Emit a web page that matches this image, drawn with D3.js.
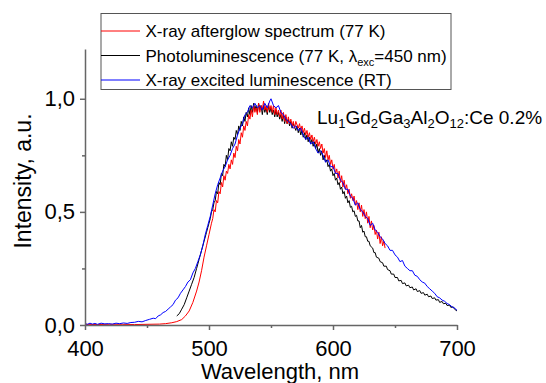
<!DOCTYPE html>
<html>
<head>
<meta charset="utf-8">
<script src="https://cdn.jsdelivr.net/npm/d3@7"></script>
<style>
  html, body { margin: 0; padding: 0; background: #fff; }
  svg { display: block; font-family: "Liberation Sans", Arial, sans-serif; }
</style>
</head>
<body>
<div id="chart"></div>
<script>
// X-ray afterglow spectrum (77 K) — [wavelength nm, intensity]
const afterglow = [
  [400,.003],[410,.002],[420,.003],[430,.003],[440,.002],[450,.003],[460,.004],[465,.006],[470,.01],[474,.015],
  [478,.024],[481,.04],[484,.062],[487,.10],[490,.15],[492,.19],[494,.24],[496,.30],[498,.35],[500,.40],
  [502,.45],[503,.47],[504,.51],[505,.50],[506,.55],[507,.54],[508,.59],[509,.58],[510,.63],[511,.61],
  [512,.66],[513,.64],[514,.68],[515,.67],[516,.71],[517,.69],[518,.73],[519,.71],[520,.76],[521,.74],
  [522,.79],[523,.77],[524,.82],[525,.80],[526,.85],[527,.83],[528,.88],[529,.86],[530,.90],[531,.88],
  [532,.93],[533,.91],[534,.95],[535,.92],[536,.97],[537,.94],[538,.96],[539,.93],[540,.98],[541,.94],
  [542,.97],[543,.95],[544,.99],[545,.95],[546,.97],[547,.94],[548,.98],[549,.95],[550,.97],[551,.94],
  [552,.97],[553,.93],[554,.96],[555,.93],[556,.95],[557,.92],[558,.95],[559,.91],[560,.94],[561,.90],
  [562,.93],[563,.89],[564,.92],[565,.89],[566,.91],[567,.88],[568,.90],[569,.87],[570,.90],[572,.87],
  [573,.89],[574,.86],[575,.88],[576,.85],[577,.87],[578,.84],[579,.86],[580,.83],[581,.85],[582,.82],
  [583,.84],[584,.81],[585,.83],[586,.80],[587,.82],[588,.79],[589,.81],[590,.78],[591,.80],[592,.76],
  [593,.78],[594,.74],[595,.77],[596,.73],[597,.75],[598,.71],[599,.73],[600,.69],[601,.71],[602,.67],
  [603,.69],[604,.65],[605,.68],[606,.63],[607,.66],[608,.61],[609,.64],[610,.60],[611,.62],[612,.58],
  [613,.60],[614,.56],[615,.58],[616,.55],[617,.57],[618,.53],[619,.55],[620,.51],[621,.54],[622,.50],
  [623,.53],[624,.48],[625,.51],[626,.47],[627,.50],[628,.45],[629,.48],[630,.43],[631,.46],[632,.42],
  [633,.44],[634,.40],[635,.42],[636,.38],[637,.41],[638,.36],[639,.39],[640,.35],[641,.37],[642,.34]
];

// Photoluminescence (77 K, λexc = 450 nm)
const photolum = [
  [474,.04],[476,.05],[478,.07],[480,.09],[482,.12],[484,.15],[486,.18],[488,.21],[490,.25],[492,.29],
  [494,.33],[496,.37],[498,.41],[499,.43],[500,.45],[501,.47],[502,.50],[503,.51],[504,.54],[505,.55],
  [506,.59],[507,.58],[508,.63],[509,.62],[510,.67],[511,.66],[512,.71],[513,.70],[514,.75],[515,.73],
  [516,.78],[517,.77],[518,.81],[519,.79],[520,.83],[521,.82],[522,.86],[523,.84],[524,.88],[525,.86],
  [526,.90],[527,.88],[528,.92],[529,.90],[530,.94],[531,.92],[532,.96],[533,.93],[534,.97],[535,.94],
  [536,.98],[537,.95],[538,.97],[539,.94],[540,.98],[541,.95],[542,.97],[543,.93],[544,.97],[545,.94],
  [546,.96],[547,.93],[548,.97],[549,.94],[550,.96],[551,.93],[552,.95],[553,.92],[554,.95],[555,.92],
  [556,.94],[557,.91],[558,.93],[559,.90],[560,.93],[561,.89],[562,.92],[563,.89],[564,.91],[565,.88],
  [566,.90],[567,.87],[568,.89],[570,.86],[571,.88],[572,.85],[573,.87],[574,.84],[575,.86],[576,.83],
  [577,.85],[578,.82],[579,.84],[580,.81],[581,.83],[582,.80],[583,.82],[584,.79],[585,.81],[586,.78],
  [587,.80],[588,.76],[589,.78],[590,.75],[591,.77],[592,.73],[593,.75],[594,.72],[595,.73],[596,.70],
  [597,.71],[598,.68],[599,.69],[600,.66],[601,.67],[602,.64],[603,.65],[604,.62],[605,.63],[606,.60],
  [607,.61],[608,.58],[609,.59],[610,.56],[611,.57],[612,.54],[613,.55],[614,.52],[615,.525],[616,.50],
  [617,.505],[618,.48],[619,.485],[620,.46],[621,.46],[622,.43],[623,.44],[624,.41],[625,.415],[626,.39],
  [627,.39],[628,.37],[629,.37],[630,.35],[632,.34],[633,.32],[634,.32],[635,.30],[637,.295],[638,.28],
  [640,.275],[641,.26],[643,.26],[644,.245],[646,.24],[647,.225],[649,.225],[650,.21],[652,.21],[653,.195],
  [655,.197],[656,.183],[658,.186],[659,.173],[661,.176],[662,.165],[664,.168],[665,.155],[667,.16],[668,.148],
  [670,.152],[671,.14],[673,.143],[674,.132],[676,.136],[677,.125],[679,.128],[680,.117],[682,.12],[683,.11],
  [685,.112],[686,.10],[688,.104],[689,.094],[691,.096],[692,.086],[694,.088],[695,.078],[697,.08],[698,.07],
  [700,.062]
];

// X-ray excited luminescence (RT)
const xel = [
  [400,.006],[402,.003],[404,.008],[406,.004],[408,.007],[410,.003],[413,.008],[416,.005],[419,.006],[422,.004],
  [425,.008],[428,.006],[431,.009],[434,.007],[437,.011],[440,.012],[443,.016],[446,.014],[449,.02],[452,.025],
  [455,.03],[457,.028],[459,.04],[461,.045],[463,.055],[465,.06],[467,.07],[469,.08],[471,.09],[473,.11],
  [475,.12],[477,.14],[479,.155],[481,.17],[483,.19],[485,.20],[487,.23],[489,.25],[491,.28],[493,.31],
  [495,.35],[497,.40],[499,.44],[501,.48],[503,.53],[505,.58],[507,.62],[509,.65],[511,.68],[513,.70],
  [515,.73],[517,.75],[519,.78],[521,.80],[523,.84],[525,.87],[527,.89],[529,.93],[531,.94],[533,.97],
  [535,.96],[537,.98],[539,.96],[541,.97],[543,.95],[545,.98],[547,.96],[549,.99],[550,1.0],[552,.97],
  [554,.96],[556,.97],[558,.94],[560,.93],[562,.91],[564,.90],[566,.89],[568,.87],[570,.88],[572,.86],
  [574,.87],[576,.84],[578,.82],[580,.83],[582,.80],[584,.81],[586,.78],[588,.76],[590,.77],[592,.75],
  [594,.72],[596,.73],[598,.70],[600,.70],[602,.67],[604,.67],[606,.64],[608,.63],[610,.60],[612,.60],
  [614,.57],[616,.56],[618,.53],[620,.54],[622,.51],[624,.50],[626,.48],[628,.47],[630,.44],[632,.45],
  [634,.42],[636,.41],[638,.39],[640,.38],[642,.36],[644,.35],[646,.33],[648,.33],[650,.31],[652,.30],
  [654,.28],[656,.285],[658,.26],[660,.25],[662,.24],[664,.24],[666,.22],[668,.215],[670,.20],[672,.19],
  [674,.185],[676,.17],[678,.16],[680,.15],[682,.14],[684,.125],[686,.12],[688,.11],[690,.105],[692,.095],
  [694,.09],[696,.08],[698,.075],[700,.065]
];

const xMajor = [400, 500, 600, 700];
const xMinor = [450, 550, 650];
const yMajor = [0, 0.5, 1.0];
const yMinor = [0.25, 0.75];

const width = 546, height = 383;
const plotLeft = 85, plotRight = 457, plotTop = 49, plotBottom = 325;
const axisColor = '#666';

const svg = d3.select('#chart')
    .append('svg')
    .attr('width', width)
    .attr('height', height);

const x = d3.scaleLinear().domain([400, 700]).range([plotLeft, plotRight]);
const y = d3.scaleLinear().domain([0, 1.22]).range([plotBottom, plotTop]);

const line = d3.line()
    .x(d => x(d[0]))
    .y(d => y(d[1]));

// Curves
const series = [
    { data: photolum, color: '#000000' },
    { data: afterglow, color: '#ff0000' },
    { data: xel, color: '#0000ff' }
];
svg.append('g')
    .selectAll('path')
    .data(series)
    .enter()
    .append('path')
    .attr('d', d => line(d.data))
    .attr('fill', 'none')
    .attr('stroke', d => d.color)
    .attr('stroke-width', 1)
    .attr('stroke-linejoin', 'round');

// Axes
const fmt = v => d3.format('.1f')(v).replace('.', ',');

svg.append('g')
    .attr('transform', `translate(0,${plotBottom})`)
    .call(d3.axisBottom(x).tickValues(xMajor).tickSize(5).tickSizeOuter(0).tickPadding(10));
svg.append('g')
    .attr('transform', `translate(0,${plotBottom})`)
    .call(d3.axisBottom(x).tickValues(xMinor).tickSize(3).tickFormat(''))
    .select('.domain').remove();

svg.append('g')
    .attr('transform', `translate(${plotLeft},0)`)
    .call(d3.axisLeft(y).tickValues(yMajor).tickFormat(fmt).tickSize(5).tickSizeOuter(0).tickPadding(5));
svg.append('g')
    .attr('transform', `translate(${plotLeft},0)`)
    .call(d3.axisLeft(y).tickValues(yMinor).tickSize(3).tickFormat(''))
    .select('.domain').remove();

svg.selectAll('.domain, .tick line')
    .attr('stroke', axisColor)
    .attr('stroke-width', 1.5);
svg.selectAll('.tick text')
    .attr('fill', '#000')
    .style('font-size', '22px')
    .style('font-family', '"Liberation Sans", Arial, sans-serif');

// Axis titles
svg.append('text')
    .attr('x', 280)
    .attr('y', 379)
    .attr('text-anchor', 'middle')
    .style('font-size', '22px')
    .text('Wavelength, nm');

svg.append('text')
    .attr('transform', 'translate(31,181) rotate(-90)')
    .attr('text-anchor', 'middle')
    .style('font-size', '23px')
    .text('Intensity, a.u.');

// Legend
const legend = svg.append('g');
legend.append('rect')
    .attr('x', 101)
    .attr('y', 13.5)
    .attr('width', 350)
    .attr('height', 76)
    .attr('fill', '#fff')
    .attr('stroke', '#555')
    .attr('stroke-width', 1);

const legendItems = [
    { color: '#ff0000', label: 'X-ray afterglow spectrum (77 K)' },
    { color: '#000000', label: 'Photoluminescence (77 K, ' },
    { color: '#0000ff', label: 'X-ray excited luminescence (RT)' }
];
legendItems.forEach((d, i) => {
    const cy = 31 + i * 24.5;
    legend.append('line')
        .attr('x1', 101).attr('x2', 140)
        .attr('y1', cy).attr('y2', cy)
        .attr('stroke', d.color)
        .attr('stroke-width', 1);
    const t = legend.append('text')
        .attr('x', 145.5)
        .attr('y', cy + 6)
        .style('font-size', '17px');
    t.append('tspan').text(d.label);
    if (i === 1) {
        t.append('tspan').text('λ');
        t.append('tspan').attr('dy', 4).style('font-size', '11px').text('exc');
        t.append('tspan').attr('dy', -4).text('=450 nm)');
    }
});

// Sample annotation
const ann = svg.append('text')
    .attr('x', 317)
    .attr('y', 124)
    .style('font-size', '19px');
const parts = [['Lu', false], ['1', true], ['Gd', false], ['2', true], ['Ga', false], ['3', true],
    ['Al', false], ['2', true], ['O', false], ['12', true], [':Ce 0.2%', false]];
let sub = false;
parts.forEach(([s, isSub]) => {
    const ts = ann.append('tspan').text(s);
    if (isSub) ts.style('font-size', '13px');
    if (isSub !== sub) ts.attr('dy', isSub ? 4 : -4);
    sub = isSub;
});
</script>
</body>
</html>
